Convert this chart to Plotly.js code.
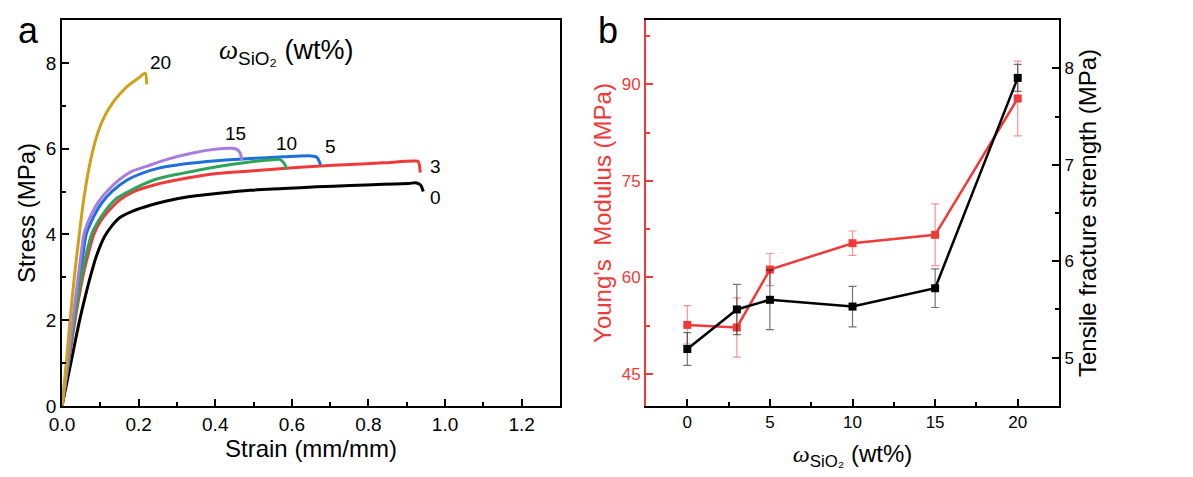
<!DOCTYPE html>
<html>
<head>
<meta charset="utf-8">
<script src="https://cdn.plot.ly/plotly-3.0.1.min.js"></script>
<style>
  body { margin: 0; background: #fff; }
  #chart { width: 1193px; height: 477px; }
</style>
</head>
<body>
<div id="chart"></div>
<script>
// panel a: stress-strain curves, one pair of arrays per SiO2 content
var strain0 = [0, 0.023, 0.046, 0.062, 0.075, 0.09, 0.111, 0.13, 0.152, 0.186, 0.23, 0.273, 0.33, 0.409, 0.491, 0.578, 0.665, 0.752, 0.839, 0.905, 0.926, 0.936, 0.943];
var stress0 = [0, 1.0, 2.0, 2.6, 3.05, 3.5, 3.95, 4.2, 4.4, 4.55, 4.68, 4.78, 4.88, 4.96, 5.03, 5.07, 5.11, 5.14, 5.17, 5.19, 5.2, 5.15, 5.0];

var strain3 = [0, 0.017, 0.034, 0.054, 0.07, 0.083, 0.1, 0.122, 0.15, 0.187, 0.243, 0.33, 0.404, 0.491, 0.578, 0.665, 0.752, 0.839, 0.917, 0.93, 0.935];
var stress3 = [0, 1.0, 2.0, 3.0, 3.6, 4.0, 4.3, 4.55, 4.8, 5.0, 5.16, 5.32, 5.42, 5.48, 5.54, 5.59, 5.63, 5.67, 5.71, 5.7, 5.44];

var strain5 = [0, 0.015, 0.03, 0.045, 0.055, 0.063, 0.075, 0.087, 0.105, 0.13, 0.17, 0.21, 0.25, 0.317, 0.404, 0.491, 0.578, 0.65, 0.665, 0.675];
var stress5 = [0, 1.0, 2.0, 3.0, 3.55, 4.0, 4.27, 4.49, 4.75, 5.0, 5.27, 5.43, 5.54, 5.64, 5.72, 5.77, 5.81, 5.83, 5.8, 5.62];

var strain10 = [0, 0.016, 0.032, 0.05, 0.065, 0.077, 0.094, 0.113, 0.14, 0.174, 0.243, 0.317, 0.404, 0.491, 0.55, 0.568, 0.578, 0.587];
var stress10 = [0, 1.0, 2.0, 3.0, 3.6, 4.0, 4.3, 4.55, 4.82, 5.0, 5.28, 5.43, 5.58, 5.69, 5.74, 5.75, 5.68, 5.52];

var strain15 = [0, 0.014, 0.028, 0.042, 0.05, 0.057, 0.067, 0.078, 0.095, 0.117, 0.15, 0.182, 0.218, 0.27, 0.341, 0.404, 0.44, 0.455, 0.465, 0.469];
var stress15 = [0, 1.0, 2.0, 3.0, 3.55, 4.0, 4.27, 4.49, 4.76, 5.0, 5.28, 5.47, 5.58, 5.74, 5.9, 5.99, 6.01, 5.99, 5.9, 5.73];

var strain20 = [0, 0.011, 0.021, 0.032, 0.045, 0.058, 0.075, 0.091, 0.108, 0.134, 0.169, 0.2, 0.217, 0.221];
var stress20 = [0, 1.0, 2.0, 3.0, 4.0, 4.9, 5.75, 6.3, 6.7, 7.09, 7.44, 7.65, 7.76, 7.5];

var curveNames = ["0", "3", "5", "10", "15", "20"];
var curveColors = ["#000000", "#f03a3a", "#1f6fdc", "#2ea35a", "#a77de0", "#d1a01a"];

// panel b: modulus and fracture strength vs SiO2 content
var wtPct = [0, 3, 5, 10, 15, 20];
var modulus = [52.6, 52.2, 61.2, 65.3, 66.6, 87.8];
var modulusErr = [3.0, 4.6, 2.5, 1.9, 4.8, 5.8];
var strength = [5.09, 5.5, 5.6, 5.53, 5.72, 7.9];
var strengthErr = [0.17, 0.26, 0.31, 0.21, 0.2, 0.14];

var FONT = "Liberation Sans, Arial, sans-serif";
var RED = "#f03a3a";
var OMEGA = "<span style='font-family:Liberation Serif'><i>ω</i></span><sub>SiO₂</sub> (wt%)";

var curves = [
  [strain0, stress0], [strain3, stress3], [strain5, stress5],
  [strain10, stress10], [strain15, stress15], [strain20, stress20]
];

var traces = [];
for (var i = 0; i < curves.length; i++) {
  traces.push({
    x: curves[i][0],
    y: curves[i][1],
    type: "scatter",
    mode: "lines",
    name: curveNames[i],
    line: { color: curveColors[i], width: 3, shape: "spline", smoothing: 0.8 },
    xaxis: "x",
    yaxis: "y",
    hoverinfo: "skip"
  });
}

traces.push({
  x: wtPct,
  y: modulus,
  type: "scatter",
  mode: "lines+markers",
  name: "Young's Modulus",
  line: { color: RED, width: 2.5 },
  marker: { symbol: "square", size: 8, color: RED },
  error_y: { type: "data", array: modulusErr, visible: true, color: "rgba(240,58,58,0.55)", thickness: 1.2, width: 4 },
  xaxis: "x2",
  yaxis: "y2"
});

traces.push({
  x: wtPct,
  y: strength,
  type: "scatter",
  mode: "lines+markers",
  name: "Tensile fracture strength",
  line: { color: "#000", width: 2.5 },
  marker: { symbol: "square", size: 8, color: "#000" },
  error_y: { type: "data", array: strengthErr, visible: true, color: "rgba(0,0,0,0.55)", thickness: 1.2, width: 4 },
  xaxis: "x2",
  yaxis: "y3"
});

function axisBase(extra) {
  var a = {
    showline: true,
    linewidth: 2,
    linecolor: "#000",
    ticks: "inside",
    ticklen: 7,
    tickwidth: 2,
    tickcolor: "#000",
    showgrid: false,
    zeroline: false,
    automargin: false
  };
  for (var k in extra) a[k] = extra[k];
  return a;
}

function label(text, x, y) {
  return { text: text, xref: "x", yref: "y", x: x, y: y, showarrow: false, font: { size: 19 } };
}

var layout = {
  width: 1193,
  height: 477,
  margin: { l: 0, r: 0, t: 0, b: 0 },
  paper_bgcolor: "#fff",
  plot_bgcolor: "#fff",
  showlegend: false,
  font: { family: FONT, color: "#000" },
  xaxis: axisBase({
    domain: [0.052, 0.4694],
    anchor: "y",
    range: [0, 1.3],
    dtick: 0.2,
    tickformat: ".1f",
    mirror: true,
    tickfont: { size: 19 },
    minor: { ticks: "inside", ticklen: 4, tickwidth: 2, dtick: 0.1, tickcolor: "#000" },
    title: { text: "Strain (mm/mm)", font: { size: 24 }, standoff: 0 }
  }),
  yaxis: axisBase({
    domain: [0.149, 0.958],
    anchor: "x",
    range: [0, 9],
    dtick: 2,
    mirror: true,
    tickfont: { size: 19 },
    minor: { ticks: "inside", ticklen: 4, tickwidth: 2, dtick: 1, tickcolor: "#000" },
    title: { text: "Stress (MPa)", font: { size: 24 }, standoff: 3 }
  }),
  xaxis2: axisBase({
    domain: [0.5415, 0.8877],
    anchor: "y2",
    range: [-2.5, 22.5],
    tick0: 0,
    dtick: 5,
    mirror: true,
    tickfont: { size: 17 },
    minor: { ticks: "inside", ticklen: 4, tickwidth: 2, dtick: 2.5, tickcolor: "#000" },
    title: { text: OMEGA, font: { size: 24 }, standoff: 14 }
  }),
  yaxis2: axisBase({
    domain: [0.149, 0.958],
    anchor: "x2",
    range: [40, 100],
    tick0: 0,
    dtick: 15,
    linecolor: RED,
    tickcolor: RED,
    tickfont: { size: 17, color: RED },
    minor: { ticks: "inside", ticklen: 4, tickwidth: 2, dtick: 7.5, tickcolor: RED },
    title: { text: "Young's\u00a0 Modulus (MPa)", font: { size: 24, color: RED }, standoff: 3 }
  }),
  yaxis3: axisBase({
    overlaying: "y2",
    side: "right",
    anchor: "x2",
    range: [4.5, 8.5],
    dtick: 1,
    tickfont: { size: 17 },
    minor: { ticks: "inside", ticklen: 4, tickwidth: 2, dtick: 0.5, tickcolor: "#000" },
    title: { text: "Tensile fracture strength (MPa)", font: { size: 24 }, standoff: 3 }
  }),
  annotations: [
    { text: "a", xref: "paper", yref: "paper", x: 0.0235, y: 0.937, xanchor: "center", yanchor: "middle", showarrow: false, font: { size: 36 } },
    { text: "b", xref: "paper", yref: "paper", x: 0.5097, y: 0.937, xanchor: "center", yanchor: "middle", showarrow: false, font: { size: 36 } },
    { text: OMEGA, xref: "x", yref: "y", x: 0.585, y: 8.25, showarrow: false, font: { size: 27 } },
    label("20", 0.256, 8.0),
    label("15", 0.454, 6.36),
    label("10", 0.585, 6.13),
    label("5", 0.70, 6.06),
    label("3", 0.974, 5.59),
    label("0", 0.974, 4.87)
  ]
};

Plotly.newPlot("chart", traces, layout, { staticPlot: true });
</script>
</body>
</html>
